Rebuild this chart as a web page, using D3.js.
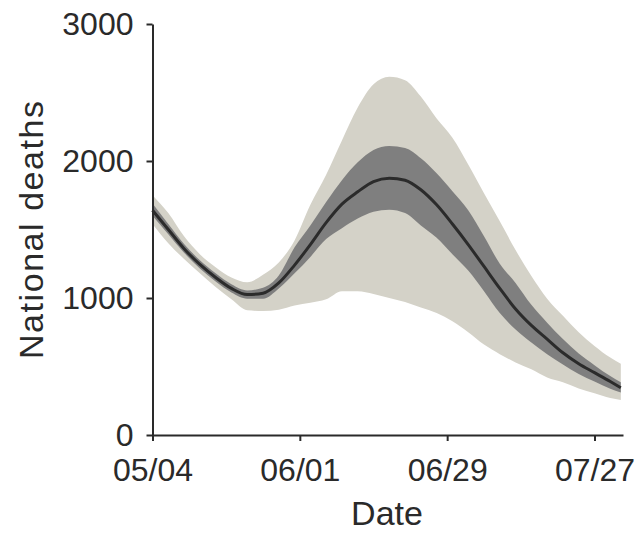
<!DOCTYPE html>
<html>
<head>
<meta charset="utf-8">
<script src="https://cdn.jsdelivr.net/npm/d3@7"></script>
<style>
body { margin: 0; background: #fff; }
svg { display: block; font-family: 'Liberation Sans', Arial, Helvetica, sans-serif; }
.axis path, .axis line { stroke: #2a2a2a; stroke-width: 2; }
.axis text { fill: #2a2a2a; font-size: 32px; }
.title { fill: #2a2a2a; font-size: 34px; }
</style>
</head>
<body>
<div id="chart"></div>
<script>
// days since 05/04
const days = [0, 3, 6, 9, 12, 15, 18, 21, 24, 27, 30, 33, 36, 39, 42, 45, 48, 51, 54, 57, 60, 63, 66, 69, 72, 75, 78, 81, 84, 87, 89]
const median = [1640, 1500, 1360, 1245, 1150, 1070, 1025, 1035, 1110, 1240, 1390, 1550, 1685, 1775, 1850, 1875, 1860, 1790, 1680, 1540, 1390, 1230, 1070, 920, 800, 700, 600, 520, 455, 390, 345]
const innerHi = [1690, 1540, 1395, 1275, 1180, 1100, 1055, 1075, 1165, 1370, 1530, 1700, 1860, 1990, 2080, 2110, 2095, 2020, 1910, 1780, 1640, 1450, 1250, 1110, 950, 820, 700, 595, 510, 430, 385]
const innerLo = [1600, 1465, 1330, 1215, 1120, 1040, 995, 995, 1070, 1180, 1300, 1430, 1510, 1580, 1630, 1645, 1620, 1530, 1440, 1320, 1200, 1050, 890, 770, 675, 590, 515, 445, 390, 338, 310]
const outerHi = [1750, 1620, 1450, 1320, 1225, 1150, 1115, 1170, 1260, 1420, 1680, 1900, 2150, 2390, 2560, 2615, 2590, 2470, 2310, 2170, 1975, 1765, 1560, 1350, 1160, 995, 870, 750, 650, 565, 520]
const outerLo = [1540, 1400, 1285, 1180, 1080, 990, 910, 905, 915, 945, 965, 990, 1050, 1050, 1030, 1000, 970, 930, 890, 830, 750, 660, 590, 530, 480, 420, 385, 340, 305, 270, 255]
const tickLabels = ['05/04', '06/01', '06/29', '07/27']
const yTicks = [0, 1000, 2000, 3000]

const parse = d3.utcParse('%Y/%m/%d')
const start = parse('2020/05/04')
const tickDates = tickLabels.map(s => parse('2020/' + s))

const data = days.map((d, i) => ({
	date: d3.utcDay.offset(start, d),
	mid: median[i], ihi: innerHi[i], ilo: innerLo[i], ohi: outerHi[i], olo: outerLo[i]
}))

const svg = d3.select('#chart').append('svg')
	.attr('width', 635).attr('height', 533)

const x = d3.scaleUtc()
	.domain([start, d3.utcHour.offset(parse('2020/08/01'), 10)])
	.range([152.5, 623])

const y = d3.scaleLinear()
	.domain([0, 3000])
	.range([435, 24])

const band = (lo, hi) => d3.area()
	.curve(d3.curveMonotoneX)
	.x(d => x(d.date))
	.y0(d => y(d[lo]))
	.y1(d => y(d[hi]))

svg.append('path')
	.datum(data)
	.attr('fill', '#d4d2c8')
	.attr('d', band('olo', 'ohi'))

svg.append('path')
	.datum(data)
	.attr('fill', '#7f7f7f')
	.attr('d', band('ilo', 'ihi'))

svg.append('path')
	.datum(data)
	.attr('fill', 'none')
	.attr('stroke', '#2b2b2b')
	.attr('stroke-width', 3)
	.attr('d', d3.line().curve(d3.curveMonotoneX).x(d => x(d.date)).y(d => y(d.mid)))

svg.append('g')
	.attr('class', 'axis')
	.attr('transform', 'translate(0,435)')
	.call(d3.axisBottom(x)
		.tickValues(tickDates)
		.tickFormat(d3.utcFormat('%m/%d'))
		.tickSizeInner(6).tickSizeOuter(0).tickPadding(17))

svg.append('g')
	.attr('class', 'axis')
	.attr('transform', 'translate(152.5,0)')
	.call(d3.axisLeft(y)
		.tickValues(yTicks)
		.tickFormat(d3.format('d'))
		.tickSizeInner(6).tickSizeOuter(0).tickPadding(13))

svg.selectAll('.axis .domain').attr('stroke-width', 2.5)

svg.append('text')
	.attr('class', 'title')
	.attr('transform', 'translate(43,230) rotate(-90)')
	.attr('text-anchor', 'middle')
	.attr('textLength', 258)
	.text('National deaths')

svg.append('text')
	.attr('class', 'title')
	.attr('x', 387).attr('y', 525)
	.attr('text-anchor', 'middle')
	.text('Date')
</script>
</body>
</html>
